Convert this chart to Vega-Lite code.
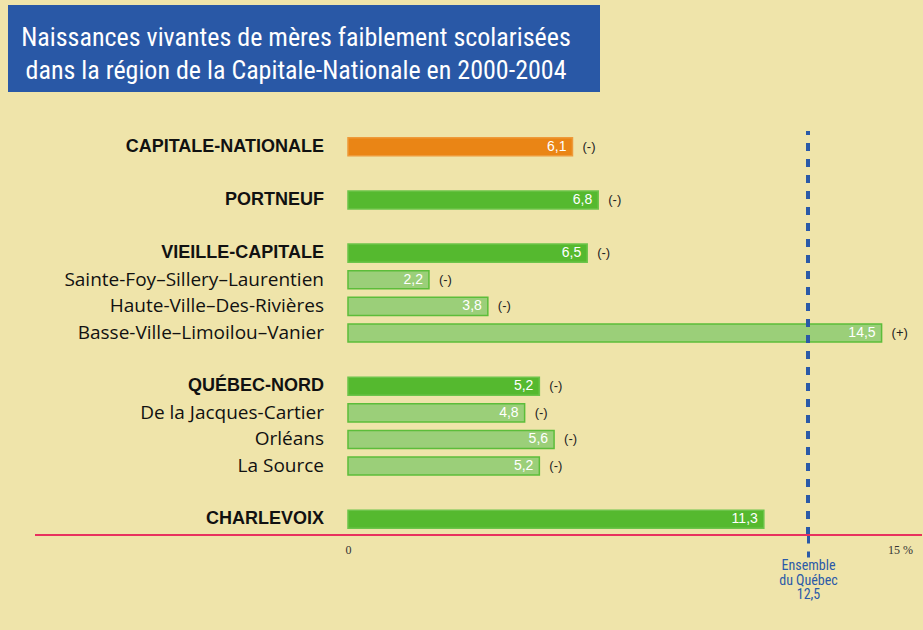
{
  "$schema": "https://vega.github.io/schema/vega-lite/v6.json",
  "background": "#efe4aa",
  "padding": {"left": 8, "top": 5, "right": 0, "bottom": 34},
  "config": {
    "view": {"stroke": null},
    "locale": {"number": {"decimal": ",", "thousands": " ", "grouping": [3], "currency": ["", " $"]}}
  },
  "spacing": 37,
  "vconcat": [
    {
      "width": 592,
      "height": 87,
      "view": {"fill": "#2958a6", "stroke": null},
      "data": {"values": [
        {"ligne": 1, "texte": "Naissances vivantes de mères faiblement scolarisées"},
        {"ligne": 2, "texte": "dans la région de la Capitale-Nationale en 2000-2004"}
      ]},
      "mark": {"type": "text", "align": "center", "baseline": "middle", "color": "white", "fontSize": 26, "font": "Liberation Sans Narrow, Roboto Condensed, Liberation Sans, sans-serif", "dy": 6, "dx": -8},
      "encoding": {
        "y": {"field": "ligne", "type": "ordinal", "axis": null, "scale": {"padding": 0.78}},
        "text": {"field": "texte"}
      }
    },
    {
      "name": "principal",
      "width": 914,
      "height": 404,
      "data": {"values": [
        {"region": "CAPITALE-NATIONALE", "valeur": 6.1, "sig": "(-)", "niveau": "Région"},
        {"region": "PORTNEUF", "valeur": 6.8, "sig": "(-)", "niveau": "RLS"},
        {"region": "VIEILLE-CAPITALE", "valeur": 6.5, "sig": "(-)", "niveau": "RLS"},
        {"region": "Sainte-Foy–Sillery–Laurentien", "valeur": 2.2, "sig": "(-)", "niveau": "CLSC"},
        {"region": "Haute-Ville–Des-Rivières", "valeur": 3.8, "sig": "(-)", "niveau": "CLSC"},
        {"region": "Basse-Ville–Limoilou–Vanier", "valeur": 14.5, "sig": "(+)", "niveau": "CLSC"},
        {"region": "QUÉBEC-NORD", "valeur": 5.2, "sig": "(-)", "niveau": "RLS"},
        {"region": "De la Jacques-Cartier", "valeur": 4.8, "sig": "(-)", "niveau": "CLSC"},
        {"region": "Orléans", "valeur": 5.6, "sig": "(-)", "niveau": "CLSC"},
        {"region": "La Source", "valeur": 5.2, "sig": "(-)", "niveau": "CLSC"},
        {"region": "CHARLEVOIX", "valeur": 11.3, "sig": "", "niveau": "RLS"}
      ]},
      "layer": [
        {
          "mark": {"type": "bar", "strokeWidth": 1.5},
          "encoding": {
            "y": {
              "field": "region", "type": "nominal",
              "scale": {
                "domain": ["CAPITALE-NATIONALE", " ", "PORTNEUF", "  ", "VIEILLE-CAPITALE", "Sainte-Foy–Sillery–Laurentien", "Haute-Ville–Des-Rivières", "Basse-Ville–Limoilou–Vanier", "   ", "QUÉBEC-NORD", "De la Jacques-Cartier", "Orléans", "La Source", "    ", "CHARLEVOIX"],
                "paddingInner": 0.32, "paddingOuter": 0.25
              },
              "axis": null
            },
            "x": {
              "field": "valeur", "type": "quantitative",
              "scale": {"domain": [-9.239, 15.598], "nice": false, "zero": false},
              "axis": {
                "title": null,
                "values": [0, 12.5, 15],
                "grid": false,
                "domain": false,
                "labelExpr": "datum.value == 0 ? '0' : datum.value == 15 ? '15 %' : ['', 'Ensemble', 'du Québec', '12,5']",
                "labelOverlap": false,
                "labelBound": false,
                "labelFlush": false,
                "labelBaseline": "top",
                "labelPadding": -13,
                "labelLineHeight": 14.5,
                "labelColor": {"condition": {"test": "datum.value == 12.5", "value": "#2b5aa8"}, "value": "#333333"},
                "labelFont": {"condition": {"test": "datum.value == 12.5", "value": "Liberation Sans Narrow, Roboto Condensed, Liberation Sans, sans-serif"}, "value": "Liberation Serif, DejaVu Serif, serif"},
                "labelFontSize": {"condition": {"test": "datum.value == 12.5", "value": 14}, "value": 12},
                "tickColor": {"condition": {"test": "datum.value == 12.5", "value": "#2b5aa8"}, "value": "transparent"},
                "tickSize": 22,
                "tickWidth": 3,
                "tickDash": [8, 8]
              }
            },
            "x2": {"datum": 0},
            "color": {"field": "niveau", "type": "nominal", "legend": null,
              "scale": {"domain": ["Région", "RLS", "CLSC"], "range": ["#ea8515", "#55b92f", "#9bcf79"]}},
            "stroke": {"field": "niveau", "type": "nominal", "legend": null,
              "scale": {"domain": ["Région", "RLS", "CLSC"], "range": ["#ee9a3a", "#6cc44a", "#5cbd3a"]}}
          }
        },
        {
          "mark": {"type": "rule", "color": "#2b5aa8", "strokeWidth": 3, "strokeDash": [8, 8], "strokeDashOffset": 4},
          "encoding": {"x": {"datum": 12.5}}
        },
        {
          "mark": {"type": "rule", "color": "#e8315e", "strokeWidth": 2},
          "encoding": {"x": {"datum": -8.505}, "x2": {"datum": 15.598}, "y": {"value": {"expr": "principal_height"}}}
        },
        {
          "mark": {"type": "text", "align": "right", "baseline": "middle", "dx": -6, "color": "white", "fontSize": 14, "font": "Liberation Sans Narrow, Liberation Sans, sans-serif"},
          "encoding": {
            "y": {"field": "region", "type": "nominal"},
            "x": {"field": "valeur", "type": "quantitative"},
            "text": {"field": "valeur", "type": "quantitative", "format": ".1f"}
          }
        },
        {
          "mark": {"type": "text", "align": "left", "baseline": "middle", "dx": 10, "color": "#222222", "fontSize": 13, "font": "Liberation Sans, sans-serif"},
          "encoding": {
            "y": {"field": "region", "type": "nominal"},
            "x": {"field": "valeur", "type": "quantitative"},
            "text": {"field": "sig"}
          }
        },
        {
          "transform": [{"filter": "datum.niveau != 'CLSC'"}],
          "mark": {"type": "text", "align": "right", "baseline": "middle", "color": "#111111", "fontSize": 18, "fontWeight": "bold", "font": "Liberation Sans, sans-serif"},
          "encoding": {
            "y": {"field": "region", "type": "nominal"},
            "x": {"datum": -0.652},
            "text": {"field": "region"}
          }
        },
        {
          "transform": [{"filter": "datum.niveau == 'CLSC'"}],
          "mark": {"type": "text", "align": "right", "baseline": "middle", "color": "#111111", "fontSize": 19, "font": "Open Sans, Liberation Sans, sans-serif"},
          "encoding": {
            "y": {"field": "region", "type": "nominal"},
            "x": {"datum": -0.652},
            "text": {"field": "region"}
          }
        }
      ]
    }
  ]
}
